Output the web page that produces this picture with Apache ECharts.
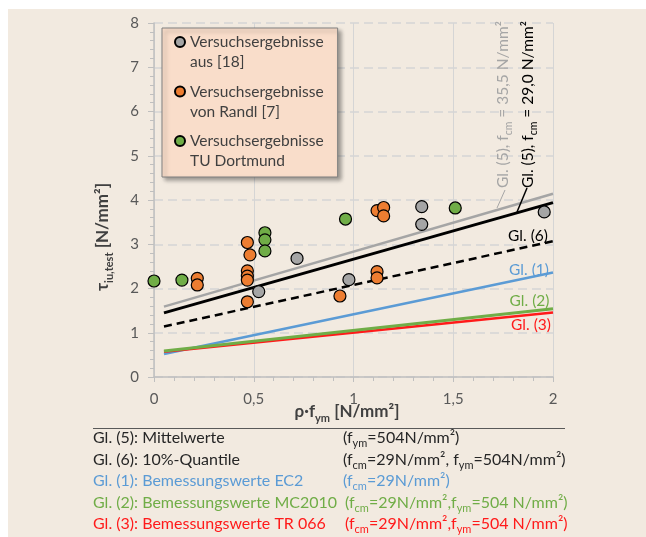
<!DOCTYPE html>
<html><head><meta charset="utf-8">
<script src="https://cdn.jsdelivr.net/npm/echarts@6/dist/echarts.min.js"></script>
<style>
html,body{margin:0;padding:0;background:#fff;}
#bg{position:absolute;left:8px;top:9px;width:638px;height:528px;background:#F2EAE0;}
#c{position:absolute;left:0;top:0;width:646px;height:537px;}
</style></head><body><div id="bg"></div><div id="c"></div>
<script>
const FONT = 'Lato, "Open Sans", sans-serif';

// tick labels
const xTickValues = [0, 0.5, 1, 1.5, 2];
const xTickLabels = ['0', '0,5', '1', '1,5', '2'];
const yTickValues = [0, 1, 2, 3, 4, 5, 6, 7, 8];
const yTickLabels = ['0', '1', '2', '3', '4', '5', '6', '7', '8'];

// series names
const seriesNames = ['Versuchsergebnisse\naus [18]', 'Versuchsergebnisse\nvon Randl [7]', 'Versuchsergebnisse\nTU Dortmund'];

// test results [rho*fym, tau]
const dataAus18 = [[0.525,1.93],[0.717,2.68],[0.977,2.20],[1.342,3.85],[1.342,3.45],[1.956,3.73]];
const dataRandl = [[0.217,2.23],[0.217,2.08],[0.468,3.04],[0.481,2.76],[0.468,2.40],[0.468,2.28],[0.468,2.19],[0.468,1.70],[0.932,1.83],[1.118,2.38],[1.118,2.24],[1.118,3.76],[1.151,3.83],[1.151,3.64]];
const dataTUD = [[0,2.17],[0.14,2.19],[0.556,3.26],[0.556,3.10],[0.556,2.85],[0.96,3.57],[1.51,3.82]];

// equation lines
const gl5_355 = [[0.05,1.59],[2,4.14]];
const gl5_29 = [[0.05,1.45],[2,3.94]];
const gl6 = [[0.05,1.14],[2,3.07]];
const gl1 = [[0.05,0.52],[2,2.36]];
const gl2 = [[0.05,0.59],[2,1.54]];
const gl3 = [[0.05,0.57],[2,1.46]];

// footnote texts
const noteLeft = ['Gl. (5): Mittelwerte','Gl. (6): 10%-Quantile','Gl. (1): Bemessungswerte EC2','Gl. (2): Bemessungswerte MC2010','Gl. (3): Bemessungswerte TR 066'];
const noteRight = ['(f{s|ym}=504N/mm²)','(f{s|cm}=29N/mm², f{s|ym}=504N/mm²)','(f{s|cm}=29N/mm²)','(f{s|cm}=29N/mm²,f{s|ym}=504 N/mm²)','(f{s|cm}=29N/mm²,f{s|ym}=504 N/mm²)'];
const noteColors = ['#262626','#262626','#5B9BD5','#70AD47','#FF1A1A'];

const chart = echarts.init(document.getElementById('c'), null, {renderer:'canvas'});

function lbl(values, labels){
  return function(v){ const i = values.findIndex(t => Math.abs(t - v) < 1e-6); return i >= 0 ? labels[i] : ''; };
}

function lineSeries(name, data, color, width, type, z){
  return {name, type:'line', data, symbol:'none', showSymbol:false, silent:true, z,
    lineStyle:{color, width, type: type || 'solid'}, itemStyle:{color}};
}
function scatterSeries(name, data, color){
  return {name, type:'scatter', data, symbol:'circle', symbolSize:12, z:5,
    itemStyle:{color, borderColor:'#000', borderWidth:1.2, opacity:1}};
}

const graphics = [];
// line labels
const lineLabels = [
  {t:'Gl. (6)', x:528, y:235.5, c:'#000'},
  {t:'Gl. (1)', x:529, y:269.5, c:'#5B9BD5'},
  {t:'Gl. (2)', x:529.5, y:300.5, c:'#70AD47'},
  {t:'Gl. (3)', x:531, y:324.5, c:'#FF1A1A'}
];
lineLabels.forEach(l => graphics.push({type:'text', x:l.x, y:l.y, z:10, style:{text:l.t, x:0, y:0, align:'center', verticalAlign:'middle', fontFamily:FONT, fontSize:15.5, fill:l.c}}));
// rotated labels
graphics.push({type:'text', x:503, y:188, rotation:Math.PI/2, z:10, style:{text:'Gl. (5), f{s|cm} = 35,5 N/mm²', x:0, y:0, align:'left', verticalAlign:'middle', fontFamily:FONT, fontSize:15.5, lineHeight:22, fill:'#A5A5A5', rich:{s:{fontFamily:FONT, fontSize:10.5, lineHeight:10, verticalAlign:'bottom', fill:'#A5A5A5'}}}});
graphics.push({type:'text', x:528, y:188, rotation:Math.PI/2, z:10, style:{text:'Gl. (5), f{s|cm} = 29,0 N/mm²', x:0, y:0, align:'left', verticalAlign:'middle', fontFamily:FONT, fontSize:15.5, lineHeight:22, fill:'#000', rich:{s:{fontFamily:FONT, fontSize:10.5, lineHeight:10, verticalAlign:'bottom', fill:'#000'}}}});
graphics.push({type:'line', z:10, shape:{x1:505, y1:190, x2:497, y2:208}, style:{stroke:'#A5A5A5', lineWidth:1}});
graphics.push({type:'line', z:10, shape:{x1:527, y1:188, x2:517, y2:212}, style:{stroke:'#000', lineWidth:1.5}});
// rule
graphics.push({type:'line', z:10, shape:{x1:93, y1:428.5, x2:565, y2:428.5}, style:{stroke:'#595959', lineWidth:1}});
// footnotes
const noteY = [438, 459.5, 481, 502.5, 524];
const noteRX = [343, 343, 343, 345, 345];
noteLeft.forEach((t,i) => {
  graphics.push({type:'text', x:93, y:noteY[i], z:10, style:{text:t, x:0, y:0, align:'left', verticalAlign:'middle', fontFamily:FONT, fontSize:16, fill:noteColors[i]}});
  graphics.push({type:'text', x:noteRX[i], y:noteY[i], z:10, style:{text:noteRight[i], x:0, y:0, align:'left', verticalAlign:'middle', fontFamily:FONT, fontSize:16, lineHeight:22, fill:noteColors[i], rich:{s:{fontFamily:FONT, fontSize:11, lineHeight:10, verticalAlign:'bottom', fill:noteColors[i]}}}});
});

const option = {
  animation:false,
  backgroundColor:'transparent',
  textStyle:{fontFamily:FONT},
  grid:{left:154, right:93, top:23, bottom:160, containLabel:false},
  legend:{
    orient:'vertical', left:162, top:28,
    padding:[4, 14, 6, 12],
    itemWidth:10, itemHeight:30, itemGap:9.5,
    icon:'path://M0,5A5,5,0,1,1,10,5A5,5,0,1,1,0,5ZM5,30L5,30',
    selectedMode:false,
    data:seriesNames,
    textStyle:{fontFamily:FONT, fontSize:15.5, color:'#404040', lineHeight:20},
    backgroundColor:'#F9DDCA', borderColor:'#7F7F7F', borderWidth:1,
    shadowBlur:4, shadowColor:'rgba(0,0,0,0.35)', shadowOffsetX:3, shadowOffsetY:3
  },
  xAxis:{
    type:'value', min:0, max:2, interval:0.5,
    name:'ρ·f{s|ym} [N/mm²]', nameLocation:'middle', nameGap:23, nameMoveOverlap:false,
    nameTextStyle:{fontFamily:FONT, fontSize:17, fontWeight:'bold', color:'#404040', lineHeight:24, padding:[0,13,0,0],
      rich:{s:{fontFamily:FONT, fontSize:11, fontWeight:'bold', lineHeight:11, verticalAlign:'bottom', color:'#404040'}}},
    axisLine:{show:true, onZero:false, lineStyle:{color:'#BFBFBF', width:1.5}},
    axisTick:{show:true, length:5, lineStyle:{color:'#BFBFBF', width:1}},
    minorTick:{show:true, splitNumber:5, length:4, lineStyle:{color:'#BFBFBF', width:1}},
    axisLabel:{margin:15, fontFamily:FONT, fontSize:15, color:'#595959', formatter:lbl(xTickValues, xTickLabels)},
    splitLine:{show:true, lineStyle:{color:'#D5D5D5', width:1}},
    minorSplitLine:{show:false}
  },
  yAxis:{
    type:'value', min:0, max:8, interval:1,
    name:'τ{s|iu,test} [N/mm²]', nameLocation:'middle', nameGap:39, nameRotate:90, nameMoveOverlap:false,
    nameTextStyle:{fontFamily:FONT, fontSize:17, fontWeight:'bold', color:'#404040', lineHeight:24, padding:[0,74,0,0],
      rich:{s:{fontFamily:FONT, fontSize:11, fontWeight:'bold', lineHeight:11, verticalAlign:'bottom', color:'#404040'}}},
    axisLine:{show:true, onZero:false, lineStyle:{color:'#BFBFBF', width:1.5}},
    axisTick:{show:true, length:6, lineStyle:{color:'#BFBFBF', width:1}},
    minorTick:{show:true, splitNumber:5, length:4, lineStyle:{color:'#BFBFBF', width:1}},
    axisLabel:{margin:15, fontFamily:FONT, fontSize:15, color:'#595959', formatter:lbl(yTickValues, yTickLabels)},
    splitLine:{show:true, lineStyle:{color:'#D5D5D5', width:1.5, type:[9,5]}},
    minorSplitLine:{show:false}
  },
  series:[
    lineSeries('Gl. (5) fcm=35,5', gl5_355, '#A5A5A5', 2.5, 'solid', 2),
    lineSeries('Gl. (5) fcm=29,0', gl5_29, '#000000', 3, 'solid', 2),
    lineSeries('Gl. (6)', gl6, '#000000', 2.5, [8,5], 2),
    lineSeries('Gl. (1)', gl1, '#5B9BD5', 2.5, 'solid', 2),
    lineSeries('Gl. (3)', gl3, '#FF1A1A', 2.5, 'solid', 2),
    lineSeries('Gl. (2)', gl2, '#70AD47', 3, 'solid', 3),
    scatterSeries(seriesNames[0], dataAus18, '#A5A5A5'),
    scatterSeries(seriesNames[1], dataRandl, '#ED7D31'),
    scatterSeries(seriesNames[2], dataTUD, '#70AD47')
  ],
  graphic:graphics
};
chart.setOption(option);
</script></body></html>
